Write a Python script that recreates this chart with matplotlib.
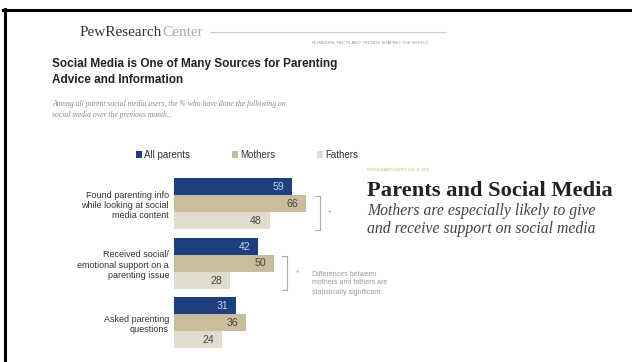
import matplotlib.pyplot as plt
from matplotlib.lines import Line2D

# data
categories = ['Found parenting info\nwhile looking at social\nmedia content',
              'Received social/\nemotional support on a\nparenting issue',
              'Asked parenting\nquestions']
series_names = ['All parents', 'Mothers', 'Fathers']
all_parents = [59, 42, 31]
mothers = [66, 50, 36]
fathers = [48, 28, 24]
significant = [True, True, False]

colors = ['#1e3f7e', '#c9bd9b', '#e1ddcc']
value_colors = ['#c5d3ee', '#444444', '#444444']

W, H = 632, 362


def fx(px):
    return px / W


def fy(py):
    return 1 - py / H


fig = plt.figure(figsize=(6.32, 3.62), dpi=100)
fig.patch.set_facecolor('white')

# bars
ax = fig.add_axes([fx(174), 0, fx(300), 1])
ax.set_xlim(0, 150)
ax.set_ylim(H, 0)
ax.axis('off')

# frame lines (top and left)
fig.add_artist(Line2D([fx(3), 1], [fy(9.5), fy(9.5)], color='black', lw=2.2))
fig.add_artist(Line2D([fx(4.5), fx(4.5)], [fy(8.5), 0], color='black', lw=2.2))

# header
t = fig.text(fx(80), fy(33), 'PewResearch', family='Liberation Serif',
             fontsize=11, color='#333333', va='center')
ax.annotate('Center', xy=(1, 0.5), xycoords=t, va='center', ha='left',
            family='Liberation Serif', fontsize=11, color='#a8a8a8',
            annotation_clip=False)
fig.add_artist(Line2D([fx(210), fx(446)], [fy(32), fy(32)], color='#cccccc', lw=0.8))
fig.text(fx(428), fy(43), 'NUMBERS, FACTS AND TRENDS SHAPING THE WORLD',
         family='Liberation Sans', fontsize=3.2, color='#999999', ha='right', va='center')

fig.text(fx(52), fy(72), 'Social Media is One of Many Sources for Parenting\nAdvice and Information',
         family='Liberation Sans', fontsize=8.45, weight='bold', color='#222222',
         va='center', linespacing=1.45)
fig.text(fx(52), fy(109.5), 'Among all parent social media users, the % who have done the following on\n'
         'social media over the previous month...', family='Liberation Serif',
         style='italic', fontsize=5.5, color='#888888', va='center', linespacing=1.6)

bar_h = 17
group_top = [178, 237.5, 297]
for k, vals in enumerate([all_parents, mothers, fathers]):
    ys = [g + bar_h / 2 + k * bar_h for g in group_top]
    ax.barh(ys, vals, height=bar_h, color=colors[k], label=series_names[k])
    for y, v in zip(ys, vals):
        ax.text(v - 4, y + 0.5, str(v), ha='right', va='center', family='Liberation Sans',
                fontsize=7.6, color=value_colors[k])

for g, cat in zip(group_top, categories):
    fig.text(fx(169), fy(g + 1.5 * bar_h + 2), cat, ha='right', va='center',
             family='Liberation Sans', fontsize=6.5, color='#333333', linespacing=1.2)

# legend
fig.legend(*ax.get_legend_handles_labels(), loc='center left',
           bbox_to_anchor=(fx(127), fy(155)),
           ncol=3, frameon=False, prop={'family': 'Liberation Sans', 'size': 7},
           handlelength=0.6, handleheight=0.6, handletextpad=0.25, columnspacing=4.3,
           labelcolor='#333333')

# significance brackets
bracket_x = [320, 287]
for g, sig, bx in zip(group_top, significant, bracket_x):
    if not sig:
        continue
    y0 = g + bar_h + 1
    y1 = g + 3 * bar_h + 1
    fig.add_artist(Line2D([fx(bx - 5), fx(bx), fx(bx), fx(bx - 5)],
                          [fy(y0), fy(y0), fy(y1), fy(y1)], color='#aaaaaa', lw=0.8))
    fig.text(fx(bx + 10), fy((y0 + y1) / 2), '*', ha='center', va='center',
             family='Liberation Sans', fontsize=6, color='#999999')

fig.text(fx(312), fy(283), 'Differences between\nmothers and fathers are\nstatistically significant',
         ha='left', va='center', family='Liberation Sans', fontsize=5, color='#999999',
         linespacing=1.4)

# right-hand title card
fig.text(fx(367), fy(170), 'PEW RESEARCH CENTER JULY 16, 2015', family='Liberation Sans',
         fontsize=2.3, color='#c8b060', va='center')
fig.text(fx(367), fy(191), 'Parents and Social Media', family='Liberation Serif',
         weight='bold', fontsize=16.2, color='#222222', va='center')
fig.text(fx(367), fy(220), 'Mothers are especially likely to give\nand receive support on social media',
         family='Liberation Serif', style='italic', fontsize=11.3, color='#444444',
         va='center', linespacing=1.15)

fig.savefig('out.png', dpi=100)
